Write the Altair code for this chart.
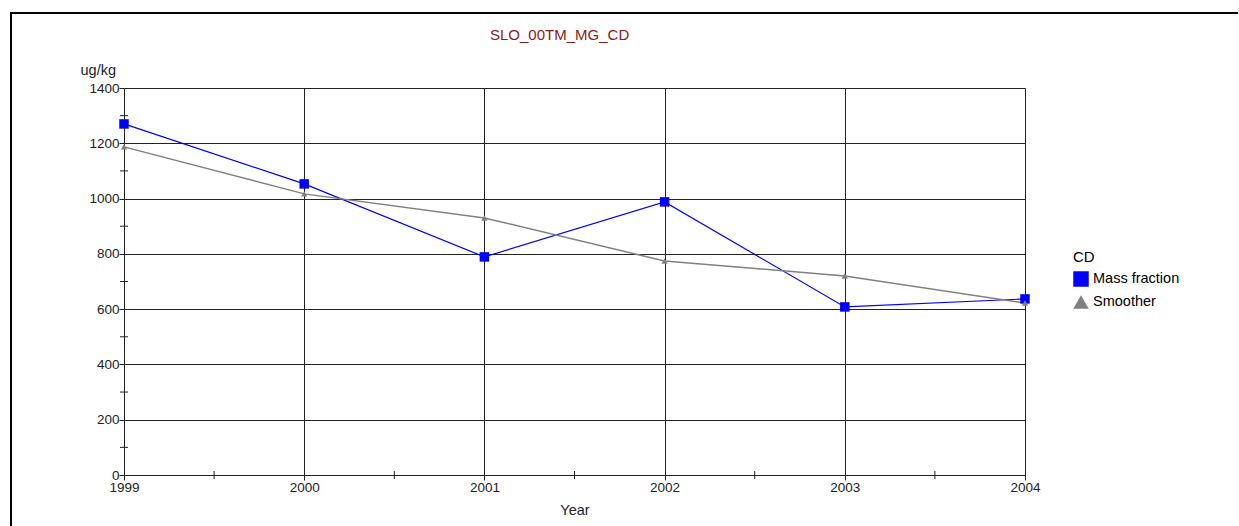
import altair as alt
import pandas as pd

years = [1999, 2000, 2001, 2002, 2003, 2004]
mass_fraction = [1270, 1053, 789, 988, 608, 637]
smoother = [1187, 1017, 930, 774, 720, 622]
series_names = ["Mass fraction", "Smoother"]
series_colors = ["#0000FF", "#808080"]
y_minor = [100, 300, 500, 700, 900, 1100, 1300]
x_minor = [1999.5, 2000.5, 2001.5, 2002.5, 2003.5]

rows = []
for yr, v in zip(years, mass_fraction):
    rows.append({"Year": yr, "value": v, "series": series_names[0]})
for yr, v in zip(years, smoother):
    rows.append({"Year": yr, "value": v, "series": series_names[1]})
df = pd.DataFrame(rows)

FONT = "Liberation Sans"
FS = 13.5
INK = "#222222"
xs = alt.Scale(domain=[1999, 2004], nice=False, zero=False)
ys = alt.Scale(domain=[0, 1400], nice=False)
col_scale = alt.Scale(domain=series_names, range=series_colors)
leg = alt.Legend(title="CD", orient="none", legendX=949, legendY=162,
                 titleFontWeight="normal", titleFontSize=15, labelFontSize=14.5,
                 titleFont=FONT, labelFont=FONT, symbolSize=240,
                 titleColor="#000000", labelColor="#000000",
                 rowPadding=7, titlePadding=6, labelOffset=4, symbolStrokeWidth=0)
fill = alt.Fill("series:N", scale=col_scale, legend=leg)
shape = alt.Shape("series:N", scale=alt.Scale(domain=series_names, range=["square", "triangle-up"]),
                  legend=leg)

base = alt.Chart(df).encode(
    x=alt.X("Year:Q", scale=xs,
            axis=alt.Axis(values=years, format="d", grid=True, gridColor=INK, gridOpacity=1,
                          domainColor=INK, tickColor=INK, tickSize=5, labelFlush=False,
                          labelFont=FONT, labelFontSize=FS, labelColor=INK, labelPadding=0,
                          title="Year", titleFont=FONT, titleFontSize=14.5, titleFontWeight="normal",
                          titleColor=INK, titlePadding=10)),
    y=alt.Y("value:Q", scale=ys,
            axis=alt.Axis(values=list(range(0, 1401, 200)), format="d", grid=True, gridColor=INK,
                          gridOpacity=1, domainColor=INK, tickColor=INK, tickSize=5,
                          labelFont=FONT, labelFontSize=FS, labelColor=INK, labelPadding=0,
                          title="ug/kg", titleAngle=0, titleAlign="left", titleBaseline="alphabetic",
                          titleX=-44, titleY=-14,
                          titleFont=FONT, titleFontSize=14.5, titleFontWeight="normal", titleColor=INK)),
)

line_mass = base.transform_filter(alt.datum.series == series_names[0]).mark_line(
    strokeWidth=1.2, color=series_colors[0])
line_smooth = base.transform_filter(alt.datum.series == series_names[1]).mark_line(
    strokeWidth=1.5, color=series_colors[1])
mass_pts = base.transform_filter(alt.datum.series == series_names[0]).mark_point(
    filled=True, opacity=1, size=90, strokeWidth=0).encode(fill=fill, shape=shape)
smooth_pts = base.transform_filter(alt.datum.series == series_names[1]).mark_point(
    filled=True, opacity=1, size=40, strokeWidth=0).encode(fill=fill, shape=shape)

ymin_df = pd.DataFrame({"v": y_minor})
xmin_df = pd.DataFrame({"v": x_minor})
y_minor_ticks = alt.Chart(ymin_df).mark_rule(color=INK).encode(
    y=alt.Y("v:Q", scale=ys), x=alt.value(-4), x2=alt.value(4))
x_minor_ticks = alt.Chart(xmin_df).mark_rule(color=INK).encode(
    x=alt.X("v:Q", scale=xs), y=alt.value(383), y2=alt.value(391))

frame_top = alt.Chart(pd.DataFrame({"a": [0]})).mark_rule(color="black", strokeWidth=2).encode(
    x=alt.value(-114), x2=alt.value(1114), y=alt.value(-75))
frame_left = alt.Chart(pd.DataFrame({"a": [0]})).mark_rule(color="black", strokeWidth=2).encode(
    x=alt.value(-113), y=alt.value(-76), y2=alt.value(440))

chart = alt.layer(
    line_mass, line_smooth, mass_pts, smooth_pts, y_minor_ticks, x_minor_ticks, frame_top, frame_left
).properties(
    width=901, height=387,
    title=alt.TitleParams("SLO_00TM_MG_CD", color="#8B1A1A", font=FONT, fontSize=15,
                          fontWeight="normal", anchor="start", frame="group", dx=366, offset=-32),
    autosize=alt.AutoSizeParams(type="none"),
    padding={"left": 124, "top": 88, "right": 214, "bottom": 51},
).configure_view(stroke=None).configure(background="white")

chart.save("out.html", embed_options={"renderer": "svg", "actions": False})
